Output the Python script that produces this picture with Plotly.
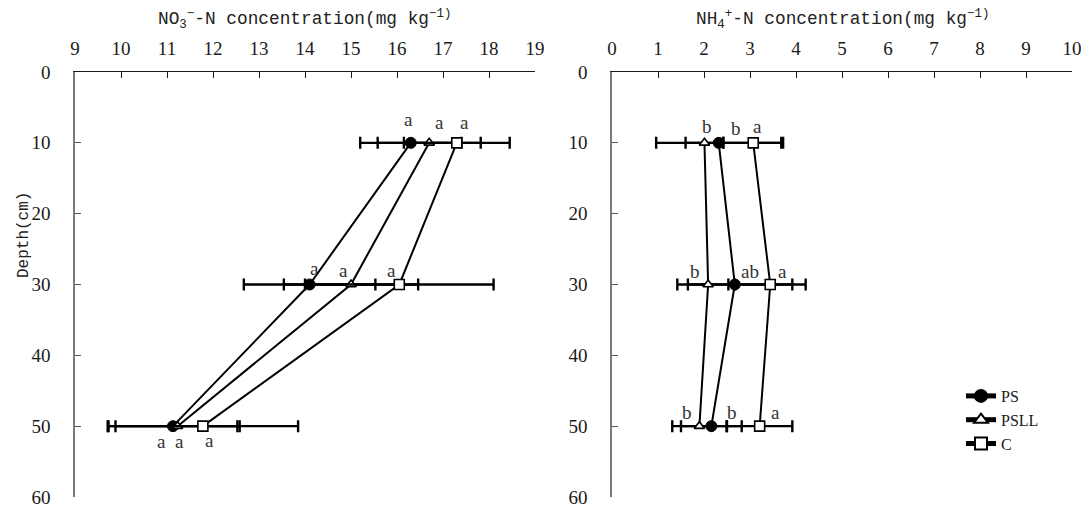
import plotly.graph_objects as go

# ---------------- data ----------------
depth = [10, 30, 50]

no3_ps = [16.3, 14.1, 11.13]
no3_psll = [16.7, 15.0, 11.23]
no3_c = [17.3, 16.05, 11.78]
no3_ps_err = [1.1, 1.43, 1.40]
no3_psll_err = [1.12, 1.46, 1.35]
no3_c_err = [1.15, 2.05, 2.07]
no3_ps_sig = ["a", "a", "a"]
no3_psll_sig = ["a", "a", "a"]
no3_c_sig = ["a", "a", "a"]

nh4_ps = [2.32, 2.67, 2.16]
nh4_psll = [2.01, 2.09, 1.90]
nh4_c = [3.07, 3.44, 3.21]
nh4_ps_err = [1.36, 1.25, 0.66]
nh4_psll_err = [0.41, 0.44, 0.59]
nh4_c_err = [0.65, 0.77, 0.71]
nh4_ps_sig = ["b", "ab", "b"]
nh4_psll_sig = ["b", "b", "b"]
nh4_c_sig = ["a", "a", "a"]

series_names = ["PS", "PSLL", "C"]
no3_ticks = list(range(9, 20))
nh4_ticks = list(range(0, 11))
depth_ticks = list(range(0, 70, 10))

# ---------------- style ----------------
W, H = 1081, 508
SERIF = "Liberation Serif"
MONO = "Liberation Mono"
marker_styles = {
    "PS": dict(symbol="circle", size=11, color="black", line=dict(color="black", width=1)),
    "PSLL": dict(symbol="triangle-up", size=9, color="white", line=dict(color="black", width=1.6)),
    "C": dict(symbol="square", size=10, color="white", line=dict(color="black", width=1.6)),
}

# letter label pixel offsets (xshift, yshift) per series per depth
no3_offsets = {
    "PS": [(-2, 23), (5, 16), (-11, -15)],
    "PSLL": [(10, 20), (-8, 14), (2, -15)],
    "C": [(8, 20), (-8, 14), (7, -14)],
}
nh4_offsets = {
    "PS": [(17, 14), (15, 13), (21, 14)],
    "PSLL": [(3, 16), (-13, 13), (-12, 14)],
    "C": [(4, 16), (12, 13), (16, 14)],
}

fig = go.Figure()

panels = [
    ("x", "y", {"PS": (no3_ps, no3_ps_err, no3_ps_sig),
                "PSLL": (no3_psll, no3_psll_err, no3_psll_sig),
                "C": (no3_c, no3_c_err, no3_c_sig)}, no3_offsets, False),
    ("x2", "y2", {"PS": (nh4_ps, nh4_ps_err, nh4_ps_sig),
                  "PSLL": (nh4_psll, nh4_psll_err, nh4_psll_sig),
                  "C": (nh4_c, nh4_c_err, nh4_c_sig)}, nh4_offsets, True),
]

annotations = []
for xa, ya, data, offs, show in panels:
    for name in series_names:
        vals, errs, sigs = data[name]
        fig.add_trace(go.Scatter(
            x=vals, y=depth, xaxis=xa, yaxis=ya, name=name,
            mode="lines+markers", showlegend=show,
            line=dict(color="black", width=2),
            marker=marker_styles[name],
            error_x=dict(type="data", array=errs, visible=True,
                         color="black", thickness=2.4, width=6),
        ))
        for v, d, s, (dx, dy) in zip(vals, depth, sigs, offs[name]):
            annotations.append(dict(
                x=v, y=d, xref=xa, yref=ya, text=s, showarrow=False,
                xanchor="center", yanchor="middle",
                xshift=dx, yshift=dy,
                font=dict(family=SERIF, size=19, color="#333333"),
            ))

x1_dom = [75 / W, 535 / W]
x2_dom = [612 / W, 1072 / W]
y_dom = [11 / H, 436 / H]

common_x = dict(side="top", showline=True, linecolor="#1a1a1a", linewidth=1.3,
                ticks="inside", ticklen=6, tickcolor="#1a1a1a", tickwidth=1.3,
                showgrid=False, zeroline=False, ticklabelstandoff=8, automargin=False,
                ticklabeloverflow="allow",
                tickfont=dict(family=SERIF, size=19, color="#1a1a1a"))
common_y = dict(showline=True, linecolor="#7a7a7a", linewidth=1.5,
                ticks="inside", ticklen=6, tickcolor="#555555", tickwidth=1.2,
                showgrid=False, zeroline=False, range=[60, 0], automargin=False,
                tickvals=depth_ticks, ticklabelstandoff=19, ticklabeloverflow="allow",
                tickfont=dict(family=SERIF, size=19, color="#1a1a1a"))

fig.update_layout(
    width=W, height=H,
    margin=dict(l=0, r=0, t=0, b=0, autoexpand=False),
    paper_bgcolor="white", plot_bgcolor="white",
    xaxis=dict(domain=x1_dom, anchor="y", range=[9, 19], tickvals=no3_ticks, **common_x),
    yaxis=dict(domain=y_dom, anchor="x", **common_y),
    xaxis2=dict(domain=x2_dom, anchor="y2", range=[0, 10], tickvals=nh4_ticks, **common_x),
    yaxis2=dict(domain=y_dom, anchor="x2", **common_y),
    legend=dict(x=961 / W, xanchor="left", y=1 - 379 / H, yanchor="top",
                bgcolor="rgba(0,0,0,0)", borderwidth=0,
                font=dict(family=SERIF, size=16, color="#1a1a1a"),
                itemsizing="constant", tracegroupgap=0),
    showlegend=True,
)

annotations += [
    dict(x=(x1_dom[0] + x1_dom[1]) / 2, y=1 - 19 / H, xref="paper", yref="paper",
         text="NO<sub>3</sub><sup>−</sup>-N concentration(mg kg<sup>−1)</sup>",
         showarrow=False, xanchor="center", yanchor="middle",
         font=dict(family=MONO, size=17.8, color="#222222")),
    dict(x=(x2_dom[0] + x2_dom[1]) / 2, y=1 - 19 / H, xref="paper", yref="paper",
         text="NH<sub>4</sub><sup>+</sup>-N concentration(mg kg<sup>−1)</sup>",
         showarrow=False, xanchor="center", yanchor="middle",
         font=dict(family=MONO, size=17.8, color="#222222")),
    dict(x=24 / W, y=1 - 235 / H, xref="paper", yref="paper", text="Depth(cm)",
         textangle=-90, showarrow=False, xanchor="center", yanchor="middle",
         font=dict(family=MONO, size=16, color="#222222")),
]
fig.update_layout(annotations=annotations)

fig.write_html("out.html", config={"displayModeBar": False},
               post_script="document.body.style.margin='0';")
